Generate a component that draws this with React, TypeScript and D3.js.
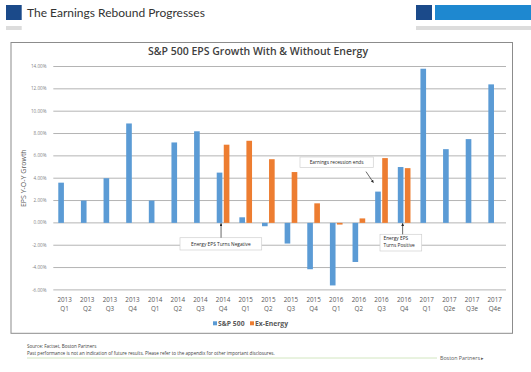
import { useRef, useEffect } from "react";
import * as d3 from "d3";

const quarters = [
  "2013 Q1", "2013 Q2", "2013 Q3", "2013 Q4",
  "2014 Q1", "2014 Q2", "2014 Q3", "2014 Q4",
  "2015 Q1", "2015 Q2", "2015 Q3", "2015 Q4",
  "2016 Q1", "2016 Q2", "2016 Q3", "2016 Q4",
  "2017 Q1", "2017 Q2e", "2017 Q3e", "2017 Q4e",
];
const sp500 = [3.6, 2.0, 4.0, 8.9, 2.0, 7.2, 8.2, 4.5, 0.5, -0.3, -1.85, -4.15, -5.6, -3.5, 2.8, 5.0, 13.8, 6.6, 7.5, 12.4];
const exEnergy: (number | null)[] = [null, null, null, null, null, null, null, 7.0, 7.35, 5.7, 4.55, 1.75, -0.15, 0.4, 5.8, 4.9, null, null, null, null];
const yTicks = [-6, -4, -2, 0, 2, 4, 6, 8, 10, 12, 14];
const seriesNames = ["S&P 500", "Ex-Energy"];

const WIDTH = 531;
const HEIGHT = 372;
const PLOT = { left: 53.3, right: 506, top: 66.5, bottom: 289.9 };
const BLUE = "#5b9bd5";
const ORANGE = "#ed7d31";
const GRID = "#b4b4b4";
const TEXT = "#595959";
const FONT = "'Open Sans', 'Noto Sans', sans-serif";

export default function App() {
  const svgRef = useRef<SVGSVGElement>(null);

  useEffect(() => {
    const svg = d3.select(svgRef.current);
    svg.selectAll("*").remove();

    svg.append("rect").attr("width", WIDTH).attr("height", HEIGHT).attr("fill", "#fff");

    // Slide header
    svg.append("rect").attr("x", 6).attr("y", 5).attr("width", 15.7).attr("height", 15).attr("fill", "#1b4a8a");
    svg.append("rect").attr("x", 6).attr("y", 26).attr("width", 15.7).attr("height", 4).attr("fill", "#dcdcdc");
    svg.append("text")
      .attr("x", 27).attr("y", 16.5)
      .attr("font-family", "Lato, 'Open Sans', sans-serif").attr("font-size", 12)
      .attr("fill", "#333")
      .text("The Earnings Rebound Progresses");
    svg.append("rect").attr("x", 416).attr("y", 5).attr("width", 16).attr("height", 15).attr("fill", "#1b4a8a");
    svg.append("rect").attr("x", 435).attr("y", 5).attr("width", 96).attr("height", 15).attr("fill", "#1e88d0");
    svg.append("rect").attr("x", 416).attr("y", 26).attr("width", 115).attr("height", 4).attr("fill", "#dcdcdc");

    // Chart frame
    svg.append("rect")
      .attr("x", 11).attr("y", 42.5).attr("width", 501.5).attr("height", 290.8)
      .attr("fill", "#fff").attr("stroke", "#8c8c8c").attr("stroke-width", 1);

    svg.append("text")
      .attr("x", 258).attr("y", 54.5).attr("text-anchor", "middle")
      .attr("font-family", FONT).attr("font-weight", 600).attr("font-size", 10.5)
      .attr("fill", "#404040")
      .text("S&P 500 EPS Growth With & Without Energy");

    const x = d3.scaleBand<string>().domain(quarters).range([PLOT.left, PLOT.right])
      .paddingInner(0.44).paddingOuter(0.22);
    const xi = d3.scaleBand<string>().domain(seriesNames).range([0, x.bandwidth()]).paddingInner(0.2);
    const y = d3.scaleLinear().domain([-6, 14]).range([PLOT.bottom, PLOT.top]);

    // Grid lines and y labels
    const g = svg.append("g");
    g.selectAll("line.grid").data(yTicks).join("line")
      .attr("class", "grid")
      .attr("x1", PLOT.left).attr("x2", PLOT.right)
      .attr("y1", (d) => y(d)).attr("y2", (d) => y(d))
      .attr("stroke", GRID).attr("stroke-width", 1);
    g.selectAll("text.ytick").data(yTicks).join("text")
      .attr("class", "ytick")
      .attr("x", 46.5).attr("y", (d) => y(d) + 1.6)
      .attr("text-anchor", "end")
      .attr("font-family", FONT).attr("font-size", 4.6).attr("fill", "#7f7f7f")
      .text((d) => d.toFixed(2) + "%");

    svg.append("text")
      .attr("transform", `translate(26,${(PLOT.top + PLOT.bottom) / 2}) rotate(-90)`)
      .attr("text-anchor", "middle")
      .attr("font-family", FONT).attr("font-size", 7).attr("fill", TEXT)
      .text("EPS Y-O-Y Growth");

    // Bars
    const series = [
      { name: "S&P 500", values: sp500 as (number | null)[], color: BLUE },
      { name: "Ex-Energy", values: exEnergy, color: ORANGE },
    ];
    for (const s of series) {
      const pts = quarters.map((q, i) => ({ q, v: s.values[i] })).filter((d) => d.v !== null) as { q: string; v: number }[];
      svg.append("g").selectAll("rect").data(pts).join("rect")
        .attr("x", (d) => (x(d.q) ?? 0) + (xi(s.name) ?? 0))
        .attr("width", xi.bandwidth())
        .attr("y", (d) => y(Math.max(0, d.v)))
        .attr("height", (d) => Math.max(0.8, Math.abs(y(d.v) - y(0))))
        .attr("fill", s.color);
    }

    // X labels
    const xl = svg.append("g");
    quarters.forEach((q) => {
      const [yr, qt] = q.split(" ");
      const cx = (x(q) ?? 0) + x.bandwidth() / 2;
      const t = xl.append("text")
        .attr("text-anchor", "middle")
        .attr("font-family", FONT).attr("font-size", 6.3).attr("fill", TEXT);
      t.append("tspan").attr("x", cx).attr("y", 302).text(yr);
      t.append("tspan").attr("x", cx).attr("y", 311).text(qt);
    });

    // Legend
    const legend = [
      { name: "S&P 500", color: BLUE, x: 213 },
      { name: "Ex-Energy", color: ORANGE, x: 250 },
    ];
    legend.forEach((l) => {
      svg.append("rect").attr("x", l.x).attr("y", 321.3).attr("width", 4).attr("height", 4).attr("fill", l.color);
      svg.append("text").attr("x", l.x + 5).attr("y", 325.6)
        .attr("font-family", FONT).attr("font-weight", 700).attr("font-size", 6.8).attr("fill", TEXT)
        .text(l.name);
    });

    // Annotations
    const defs = svg.append("defs");
    defs.append("marker")
      .attr("id", "arrow").attr("viewBox", "0 0 10 10").attr("refX", 9).attr("refY", 5)
      .attr("markerWidth", 4).attr("markerHeight", 4).attr("orient", "auto")
      .append("path").attr("d", "M0,0 L10,5 L0,10 z").attr("fill", "#262626");

    const barRight = (q: string) => (x(q) ?? 0) + (xi("S&P 500") ?? 0) + xi.bandwidth();
    const barCenter = (q: string) => (x(q) ?? 0) + (xi("S&P 500") ?? 0) + xi.bandwidth() / 2;

    const box = (bx: number, by: number, bw: number, bh: number, lines: string[], anchor: "middle" | "start") => {
      svg.append("rect").attr("x", bx).attr("y", by).attr("width", bw).attr("height", bh)
        .attr("fill", "#fff").attr("stroke", "#d0d0d0").attr("stroke-width", 0.7);
      lines.forEach((ln, i) => {
        svg.append("text")
          .attr("x", anchor === "middle" ? bx + bw / 2 : bx + 3.5)
          .attr("y", by + (lines.length === 1 ? bh / 2 + 1.7 : 5.8 + i * 7))
          .attr("text-anchor", anchor)
          .attr("font-family", FONT).attr("font-size", 4.8).attr("fill", "#262626")
          .text(ln);
      });
    };

    // Energy EPS Turns Negative
    const negX = barRight("2014 Q4") - 1.3;
    box(180, 237.7, 81.7, 12.3, ["Energy EPS Turns Negative"], "middle");
    svg.append("line").attr("x1", negX).attr("y1", 237.7).attr("x2", negX).attr("y2", y(0) + 0.5)
      .attr("stroke", "#262626").attr("stroke-width", 0.7).attr("marker-end", "url(#arrow)");

    // Earnings recession ends
    box(300, 157, 73.3, 10.5, ["Earnings recession ends"], "middle");
    const recX = barCenter("2016 Q3");
    const recY = y(sp500[14]);
    svg.append("line").attr("x1", recX - 12).attr("y1", recY - 20).attr("x2", recX - 4.6).attr("y2", recY - 9)
      .attr("stroke", "#262626").attr("stroke-width", 0.7).attr("marker-end", "url(#arrow)");

    // Energy EPS Turns Positive
    const posX = barRight("2016 Q4") - 0.8;
    box(380, 234.3, 41.7, 16.7, ["Energy EPS", "Turns Positive"], "start");
    svg.append("line").attr("x1", posX).attr("y1", 234.3).attr("x2", posX).attr("y2", y(0) + 0.5)
      .attr("stroke", "#262626").attr("stroke-width", 0.7).attr("marker-end", "url(#arrow)");

    // Footer
    svg.append("text").attr("x", 27).attr("y", 348)
      .attr("font-family", FONT).attr("font-size", 4.6).attr("fill", "#404040")
      .text("Source: Factset, Boston Partners");
    svg.append("text").attr("x", 27).attr("y", 355)
      .attr("font-family", FONT).attr("font-size", 4.6).attr("fill", "#404040")
      .text("Past performance is not an indication of future results. Please refer to the appendix for other important disclosures.");
    svg.append("line").attr("x1", 27).attr("x2", 437).attr("y1", 358).attr("y2", 358)
      .attr("stroke", "#c6dfb0").attr("stroke-width", 0.8);
    svg.append("text").attr("x", 440).attr("y", 360)
      .attr("font-family", FONT).attr("font-size", 5.3).attr("fill", "#595959")
      .text("Boston Partners \u25B8");
  }, []);

  return (
    <svg
      ref={svgRef}
      width={WIDTH}
      height={HEIGHT}
      style={{ position: "absolute", left: 0, top: 0 }}
    />
  );
}
